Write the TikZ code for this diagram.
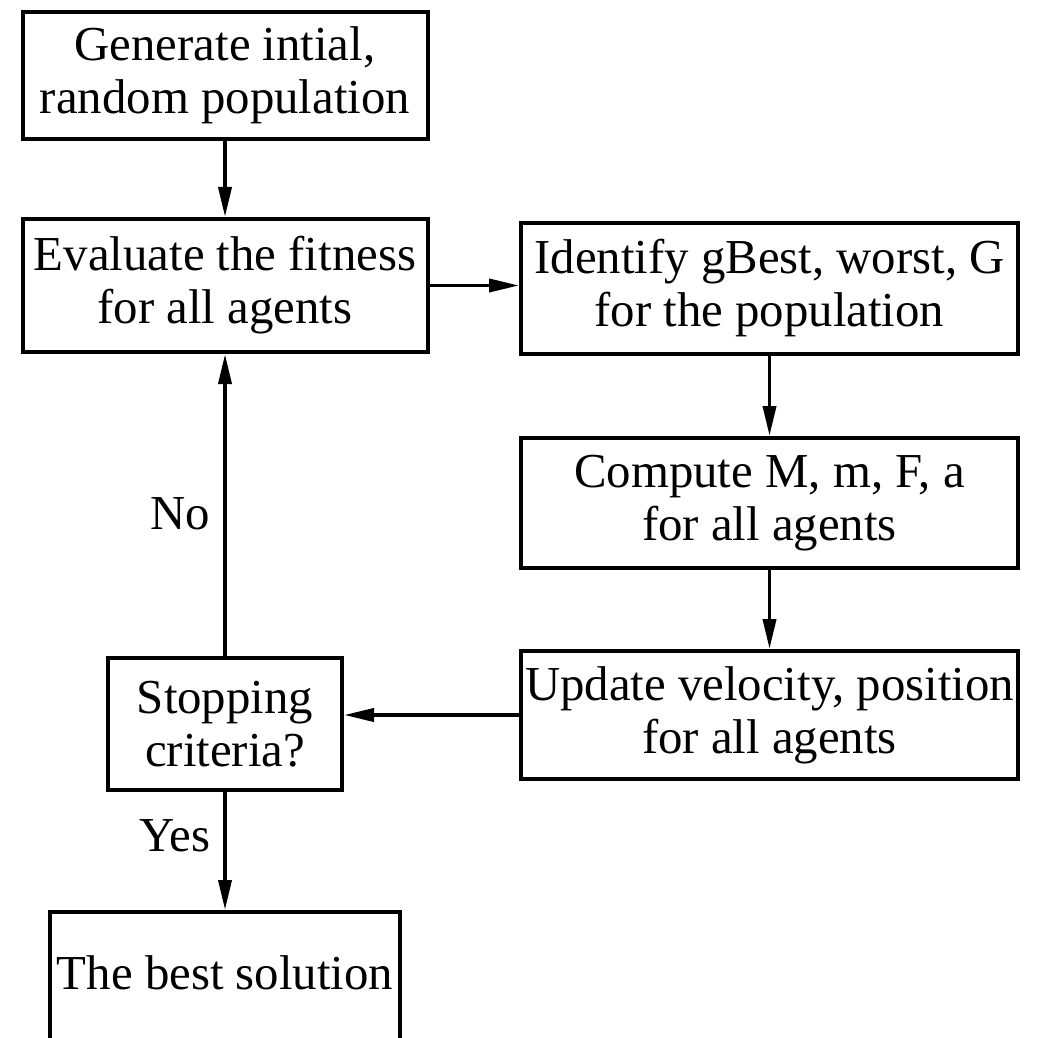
\documentclass[tikz,border=0pt]{standalone}
\usepackage{fontspec}
\setmainfont{Liberation Serif}
\usetikzlibrary{arrows.meta}
\begin{document}
\begin{tikzpicture}[x=0.5pt,y=-0.5pt,
  every node/.style={font=\fontsize{24.4}{26.5}\selectfont},
  box/.style={draw, line width=2pt, align=center, inner sep=0pt},
  flow/.style={line width=1.9pt, -{Triangle[length=15pt,width=6.5pt]}},
  lbl/.style={anchor=east, inner sep=0pt, xshift=-6.5pt}]
\useasboundingbox (0,0) rectangle (1042,1037);
\clip (0,0) rectangle (1042,1037);

% process boxes
\node[box, minimum width=202.5pt, minimum height=63.5pt] (init) at (225,75.5)
  {Generate intial,\\random population};
\node[box, minimum width=202.5pt, minimum height=66.5pt] (eval) at (225,285.5)
  {Evaluate the fitness\\for all agents};
\node[box, minimum width=248.5pt, minimum height=65pt] (ident) at (769.5,288.5)
  {Identify gBest, worst, G\\for the population};
\node[box, minimum width=248.5pt, minimum height=65pt] (comp) at (769.5,503)
  {Compute M, m, F, a\\for all agents};
\node[box, minimum width=248.5pt, minimum height=64pt] (upd) at (769.5,715)
  {Update velocity, position\\for all agents};
\node[box, minimum width=117pt, minimum height=66pt] (stop) at (225,724)
  {Stopping\\criteria?};
\node[box, anchor=north, minimum width=175pt, text height=38.5pt, text depth=75pt] (best) at (225,910)
  {The best solution};

% connectors
\draw[flow] (init) -- (eval);
\draw[flow] (eval.east) -- (eval.east -| ident.west);
\draw[flow] (ident) -- (comp);
\draw[flow] (comp) -- (upd);
\draw[flow] (upd.west) -- (upd.west -| stop.east);
\draw[flow] (stop.north) -- (stop.north |- eval.south) node[lbl, pos=0.47] {No};
\draw[flow] (stop.south) -- (best.north) node[lbl, pos=0.375] {Yes};
\end{tikzpicture}
\end{document}
